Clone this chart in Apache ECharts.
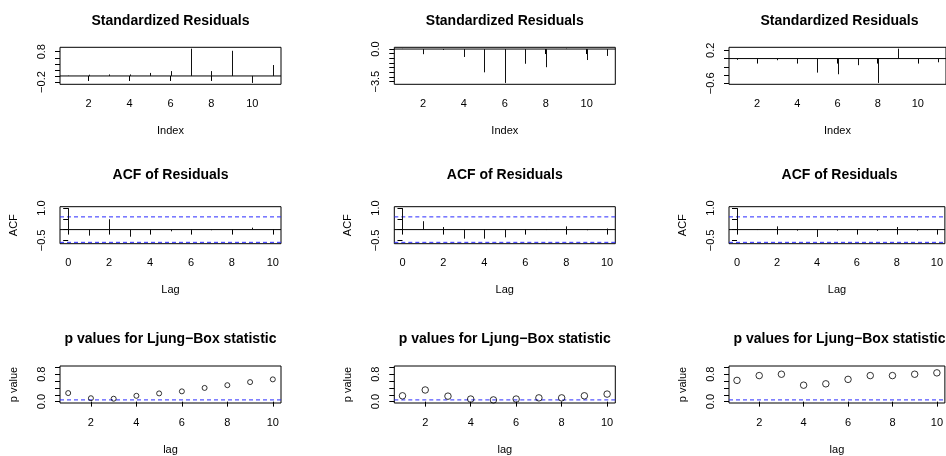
<!DOCTYPE html>
<html>
<head>
<meta charset="utf-8">
<script src="https://cdn.jsdelivr.net/npm/echarts@6/dist/echarts.min.js"></script>
<style>
  html, body { margin: 0; padding: 0; background: #fff; }
  #chart { width: 946px; height: 456px; }
</style>
</head>
<body>
<div id="chart"></div>
<script>
// Time index of the residuals and the lags used in the diagnostics
const residIndex = [1, 2, 3, 4, 5, 6, 7, 8, 9, 10, 11];
const acfLags = [0, 1, 2, 3, 4, 5, 6, 7, 8, 9, 10];
const lbLags = [1, 2, 3, 4, 5, 6, 7, 8, 9, 10];

// Standardized residuals of the three fitted models
const residA = [0.01, 0.04, 0.05, 0.05, 0.10, 0.16, 0.90, 0.16, 0.83, -0.23, 0.36];
const residB = [0.02, -0.55, -0.10, -0.85, -2.50, -3.64, -1.58, -1.95, 0.04, -1.18, -0.74];
const residC = [-0.03, -0.03, -0.04, -0.09, -0.34, -0.38, -0.16, -0.59, 0.24, -0.03, -0.09];

// Sample autocorrelation of the residuals
const acfA = [1, -0.28, 0.48, -0.33, -0.03, -0.08, -0.08, -0.03, -0.02, 0.09, -0.03];
const acfB = [1, 0.39, 0.12, -0.42, -0.42, -0.36, -0.03, -0.02, 0.15, -0.03, 0.05];
const acfC = [1, -0.02, 0.15, -0.05, -0.34, -0.05, -0.03, -0.06, 0.12, -0.05, -0.08];

// Ljung-Box p values by lag
const pvalA = [0.25, 0.10, 0.085, 0.17, 0.24, 0.30, 0.40, 0.48, 0.57, 0.65];
const pvalB = [0.17, 0.34, 0.16, 0.075, 0.05, 0.075, 0.11, 0.11, 0.17, 0.22];
const pvalC = [0.62, 0.76, 0.80, 0.48, 0.52, 0.65, 0.76, 0.76, 0.80, 0.84];

// Tick marks and the tick labels that are printed
const residTicksX = [2, 4, 6, 8, 10];
const acfTicksX = [0, 2, 4, 6, 8, 10];
const lbTicksX = [2, 4, 6, 8, 10];
const residTicksYA = [-0.2, 0, 0.2, 0.4, 0.6, 0.8];
const residLabelsYA = [-0.2, 0.8];
const residTicksYB = [-3.5, -3, -2.5, -2, -1.5, -1, -0.5, 0];
const residLabelsYB = [-3.5, 0];
const residTicksYC = [-0.6, -0.4, -0.2, 0, 0.2];
const residLabelsYC = [-0.6, 0.2];
const acfTicksY = [-0.5, 0, 0.5, 1];
const acfLabelsY = [-0.5, 1];
const pTicksY = [0, 0.2, 0.4, 0.6, 0.8, 1];
const pLabelsY = [0, 0.8];

// Reference levels: 95% white-noise band for the ACF, 0.05 for the p values
const acfBand = 1.96 / Math.sqrt(residIndex.length);
const lbSignif = 0.05;

const FONT = '"Liberation Sans", Arial, Helvetica, sans-serif';
const BLUE = '#2a2aff';

// Plot boxes (pixels)
const colLeft = [60, 394.3, 729];
const rowTop = [47.3, 206.7, 366];
const boxW = 221, boxH = 37;
const titleTop = [14, 168, 332.5];

// R-style axis extent: data range widened by 4% on each side
function padRange(lo, hi) {
  const d = (hi - lo) * 0.04;
  return [lo - d, hi + d];
}

function fmtNum(v, digits) {
  const s = Math.abs(v).toFixed(digits);
  return (v < 0 && Number(s) !== 0 ? '\u2212' : '') + s;
}

const grids = [], xAxes = [], yAxes = [], series = [], titles = [];

function addPanel(o) {
  const gi = grids.length;
  grids.push({
    left: colLeft[o.col], top: rowTop[o.row], width: boxW, height: boxH,
    show: true, borderColor: '#000', borderWidth: 1, backgroundColor: 'transparent',
    containLabel: false
  });
  titles.push({
    text: o.title, padding: 0,
    left: colLeft[o.col] + boxW / 2, top: titleTop[o.row], textAlign: 'center',
    textStyle: { fontFamily: FONT, fontSize: 14, fontWeight: 'bold', color: '#000' }
  });
  xAxes.push({
    type: 'value', gridIndex: gi, min: o.xRange[0], max: o.xRange[1],
    name: o.xName, nameLocation: 'middle', nameGap: 41,
    nameTextStyle: { fontFamily: FONT, fontSize: 11, color: '#000' },
    axisLine: { show: false },
    splitLine: { show: false },
    axisTick: { show: true, length: 5, customValues: o.xTicks, lineStyle: { color: '#000', width: 1 } },
    axisLabel: {
      show: true, customValues: o.xTicks, margin: 14,
      fontFamily: FONT, fontSize: 11, color: '#000',
      formatter: v => String(v)
    }
  });
  yAxes.push({
    type: 'value', gridIndex: gi, min: o.yRange[0], max: o.yRange[1],
    name: o.yName || '', nameLocation: 'middle', nameGap: 41,
    nameTextStyle: { fontFamily: FONT, fontSize: 11, color: '#000' },
    axisLine: { show: false },
    splitLine: { show: false },
    axisTick: { show: true, length: 5, customValues: o.yTicks, lineStyle: { color: '#000', width: 1 } },
    axisLabel: {
      show: true, customValues: o.yLabels, rotate: 90, margin: 13,
      fontFamily: FONT, fontSize: 11, color: '#000',
      formatter: v => fmtNum(v, 1)
    }
  });

  // horizontal reference lines across the whole plot box
  (o.refs || []).forEach(r => {
    series.push({
      type: 'line', xAxisIndex: gi, yAxisIndex: gi, silent: true,
      data: [[o.xRange[0], r.y], [o.xRange[1], r.y]],
      symbol: 'none', z: 1,
      lineStyle: { color: r.color, width: 1, type: r.dash ? [4, 3] : 'solid' }
    });
  });

  if (o.kind === 'spike') {
    series.push({
      type: 'custom', xAxisIndex: gi, yAxisIndex: gi,
      data: o.x.map((x, i) => [x, o.y[i]]),
      encode: { x: 0, y: 1 },
      clip: true, z: 2,
      renderItem: (params, api) => {
        const p0 = api.coord([api.value(0), 0]);
        const p1 = api.coord([api.value(0), api.value(1)]);
        const xx = Math.round(p0[0]) + 0.5;
        return {
          type: 'line',
          shape: { x1: xx, y1: p0[1], x2: xx, y2: p1[1] },
          style: { stroke: '#111', lineWidth: 1 }
        };
      }
    });
  } else {
    series.push({
      type: 'scatter', xAxisIndex: gi, yAxisIndex: gi, z: 2,
      data: o.x.map((x, i) => [x, o.y[i]]),
      symbol: 'circle', symbolSize: o.symbolSize,
      itemStyle: { color: 'rgba(0,0,0,0)', borderColor: '#000', borderWidth: 1 }
    });
  }
}

const residSets = [
  [residA, residTicksYA, residLabelsYA],
  [residB, residTicksYB, residLabelsYB],
  [residC, residTicksYC, residLabelsYC]
];
const acfSets = [acfA, acfB, acfC];
const pvalSets = [pvalA, pvalB, pvalC];
const pointSizes = [5, 6.5, 6.5];

for (let c = 0; c < 3; c++) {
  const r = residSets[c][0];
  addPanel({
    col: c, row: 0, kind: 'spike', title: 'Standardized Residuals',
    x: residIndex, y: r,
    xRange: padRange(residIndex[0], residIndex[residIndex.length - 1]),
    yRange: padRange(Math.min(...r), Math.max(...r)),
    xTicks: residTicksX, yTicks: residSets[c][1], yLabels: residSets[c][2],
    xName: 'Index',
    refs: [{ y: 0, color: '#000' }]
  });

  const a = acfSets[c];
  addPanel({
    col: c, row: 1, kind: 'spike', title: 'ACF of Residuals',
    x: acfLags, y: a,
    xRange: padRange(acfLags[0], acfLags[acfLags.length - 1]),
    yRange: padRange(Math.min(-acfBand, ...a), Math.max(acfBand, ...a)),
    xTicks: acfTicksX, yTicks: acfTicksY, yLabels: acfLabelsY,
    xName: 'Lag', yName: 'ACF',
    refs: [
      { y: 0, color: '#000' },
      { y: acfBand, color: BLUE, dash: true },
      { y: -acfBand, color: BLUE, dash: true }
    ]
  });

  addPanel({
    col: c, row: 2, kind: 'points', title: 'p values for Ljung\u2212Box statistic',
    x: lbLags, y: pvalSets[c], symbolSize: pointSizes[c],
    xRange: padRange(lbLags[0], lbLags[lbLags.length - 1]),
    yRange: padRange(0, 1),
    xTicks: lbTicksX, yTicks: pTicksY, yLabels: pLabelsY,
    xName: 'lag', yName: 'p value',
    refs: [{ y: lbSignif, color: BLUE, dash: true }]
  });
}

const chart = echarts.init(document.getElementById('chart'), null, { renderer: 'canvas' });
chart.setOption({
  animation: false,
  backgroundColor: '#fff',
  title: titles,
  grid: grids,
  xAxis: xAxes,
  yAxis: yAxes,
  series: series
});
</script>
</body>
</html>
